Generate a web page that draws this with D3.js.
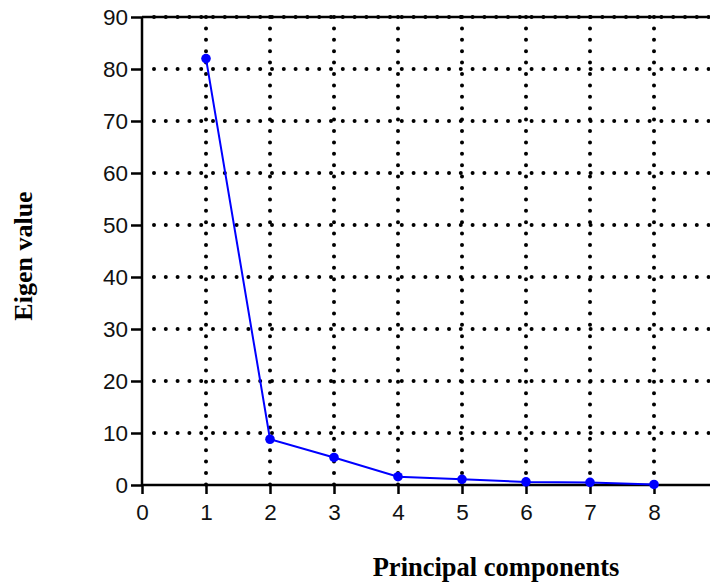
<!DOCTYPE html>
<meta charset="utf-8">
<title>Scree plot</title>
<script src="https://cdn.jsdelivr.net/npm/d3@7"></script>
<style>
  body { margin: 0; background: #fff; }
</style>
<body>
<svg id="chart" width="710" height="582"></svg>
<script>
  // data
  let components = [1, 2, 3, 4, 5, 6, 7, 8]
  let eigenValues = [82.0, 8.8, 5.3, 1.6, 1.1, 0.6, 0.5, 0.1]
  let xTicks = [0, 1, 2, 3, 4, 5, 6, 7, 8]
  let yTicks = [0, 10, 20, 30, 40, 50, 60, 70, 80, 90]

  let svg = d3.select("#chart")
  let plotLeft = 142, plotRight = 710, plotTop = 17, plotBottom = 485

  let x = d3.scaleLinear().domain([0, 8.875]).range([plotLeft, plotRight])
  let y = d3.scaleLinear().domain([0, 90]).range([plotBottom, plotTop])

  // dotted grid
  let grid = svg.append("g")
  grid.selectAll("line.v").data(xTicks.slice(1))
    .enter().append("line")
    .attr("x1", d => x(d)).attr("x2", d => x(d))
    .attr("y1", plotTop).attr("y2", plotBottom)
    .attr("stroke", "#000")
    .attr("stroke-width", 4)
    .attr("stroke-linecap", "round")
    .attr("stroke-dasharray", "0 11.4")

  grid.selectAll("line.h").data(yTicks.slice(1, -1))
    .enter().append("line")
    .attr("x1", plotLeft + 12).attr("x2", plotRight)
    .attr("y1", d => y(d)).attr("y2", d => y(d))
    .attr("stroke", "#000")
    .attr("stroke-width", 4)
    .attr("stroke-linecap", "round")
    .attr("stroke-dasharray", "0 11.8")

  // top line at 90, solid with dots on it
  svg.append("line")
    .attr("x1", plotLeft).attr("x2", plotRight)
    .attr("y1", y(90)).attr("y2", y(90))
    .attr("stroke", "#000").attr("stroke-width", 2.5)
  svg.append("line")
    .attr("x1", plotLeft + 12).attr("x2", plotRight)
    .attr("y1", y(90)).attr("y2", y(90))
    .attr("stroke", "#000")
    .attr("stroke-width", 4)
    .attr("stroke-linecap", "round")
    .attr("stroke-dasharray", "0 11.8")

  // axes
  let xAxis = d3.axisBottom(x).tickValues(xTicks).tickSize(9).tickPadding(10)
  let yAxis = d3.axisLeft(y).tickValues(yTicks).tickSize(11).tickPadding(3)

  let gx = svg.append("g").attr("transform", `translate(0,${plotBottom})`).call(xAxis)
  let gy = svg.append("g").attr("transform", `translate(${plotLeft},0)`).call(yAxis)

  gx.select(".domain").attr("d", `M${plotLeft},0H${plotRight}`)
  gy.select(".domain").attr("d", `M0,${plotBottom}V${plotTop}`)

  svg.selectAll(".domain, .tick line")
    .attr("stroke", "#000")
    .attr("stroke-width", 2.5)
  svg.selectAll(".tick text")
    .attr("font-family", "Liberation Sans, Arial, sans-serif")
    .attr("font-size", 22.5)
    .attr("fill", "#111")

  // data line and points
  let pts = components.map((c, i) => [c, eigenValues[i]])
  svg.append("path")
    .datum(pts)
    .attr("fill", "none")
    .attr("stroke", "#0000ff")
    .attr("stroke-width", 2)
    .attr("d", d3.line().x(d => x(d[0])).y(d => y(d[1])))

  svg.selectAll("circle.pt").data(pts)
    .enter().append("circle")
    .attr("cx", d => x(d[0]))
    .attr("cy", d => y(d[1]))
    .attr("r", 4.8)
    .attr("fill", "#0000ff")

  // axis titles
  svg.append("text")
    .attr("x", 496).attr("y", 576)
    .attr("text-anchor", "middle")
    .attr("font-family", "Liberation Serif, Times New Roman, serif")
    .attr("font-weight", "bold")
    .attr("font-size", 26.5)
    .text("Principal components")

  svg.append("text")
    .attr("transform", "translate(32,256) rotate(-90)")
    .attr("text-anchor", "middle")
    .attr("font-family", "Liberation Serif, Times New Roman, serif")
    .attr("font-weight", "bold")
    .attr("font-size", 26)
    .text("Eigen value")
</script>
</body>
